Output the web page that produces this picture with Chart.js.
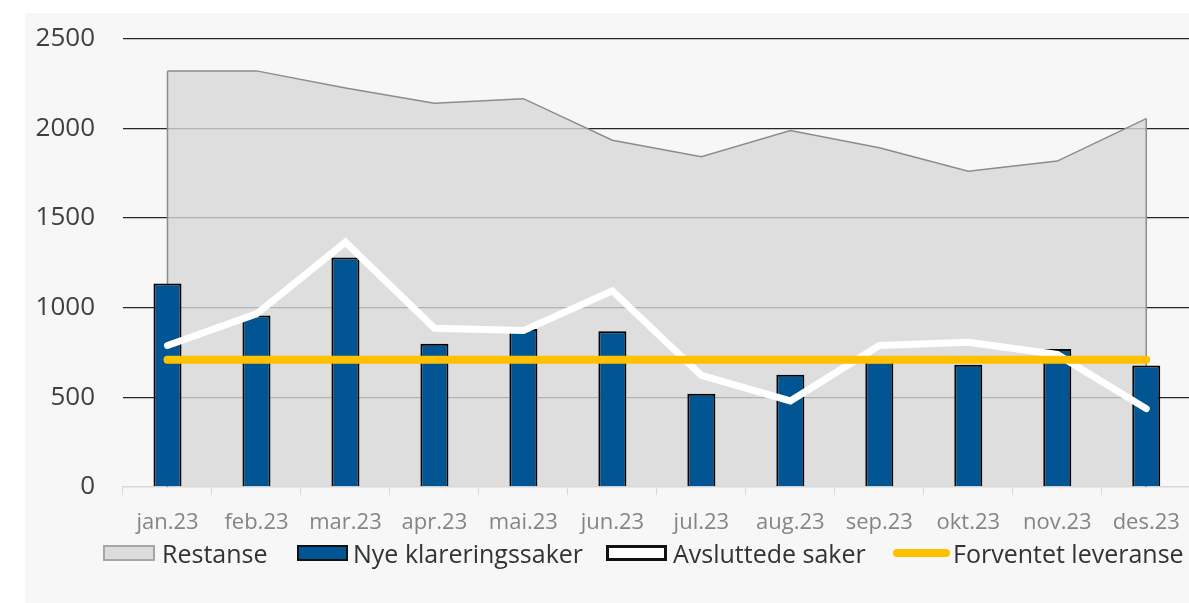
<!DOCTYPE html>
<html>
<head>
<meta charset="utf-8">
<script src="https://cdn.jsdelivr.net/npm/chart.js@4/dist/chart.umd.min.js"></script>
<style>
    html, body { margin: 0; padding: 0; background: #fff; width: 1189px; height: 603px; overflow: hidden; }
    #panel { position: absolute; left: 25px; top: 13px; width: 1164px; height: 590px; background: #f7f7f7; overflow: hidden; }
    #panel canvas { position: absolute; left: 0; top: -18px; }
    .lg { position: absolute; top: 539px; height: 28px; display: flex; align-items: center; font-family: 'Open Sans', sans-serif; font-size: 25px; color: #333; white-space: nowrap; }
    .sw { position: absolute; box-sizing: border-box; top: 545px; height: 16px; }
</style>
</head>
<body>
<div id="panel"><canvas id="chart" width="1170" height="608"></canvas></div>

<div class="sw" style="left:103px;width:52px;background:#dcdcdc;border:2px solid #a6a6a6"></div>
<div class="lg" style="left:162px">Restanse</div>
<div class="sw" style="left:297px;width:51px;background:#005592;border:2px solid #111"></div>
<div class="lg" style="left:353px">Nye klareringssaker</div>
<div class="sw" style="left:606px;width:61px;background:#fff;border:3px solid #111"></div>
<div class="lg" style="left:673px">Avsluttede saker</div>
<div class="sw" style="left:893px;width:57px;top:549px;height:8px;background:#ffc000;border-radius:4px"></div>
<div class="lg" style="left:953px">Forventet leveranse</div>

<script>
const months = ['jan.23', 'feb.23', 'mar.23', 'apr.23', 'mai.23', 'jun.23', 'jul.23', 'aug.23', 'sep.23', 'okt.23', 'nov.23', 'des.23'];
const restanse = [2320, 2320, 2225, 2140, 2165, 1933, 1841, 1987, 1891, 1761, 1817, 2054];
const nyeSaker = [1135, 956, 1280, 798, 881, 868, 520, 626, 700, 682, 770, 678];
const avsluttede = [789, 965, 1365, 885, 872, 1094, 622, 480, 789, 807, 739, 437];
const forventet = [710, 710, 710, 710, 710, 710, 710, 710, 710, 710, 710, 710];
const yTicks = [0, 500, 1000, 1500, 2000, 2500];

// vertical edges of the Restanse area (drawn right after that dataset)
const areaEdges = {
    id: 'areaEdges',
    afterDatasetDraw(chart, args) {
        if (args.index !== 0) return;
        const pts = args.meta.data;
        const base = chart.scales.y.getPixelForValue(0);
        const ctx = chart.ctx;
        ctx.save();
        ctx.strokeStyle = '#8c8c8c';
        ctx.lineWidth = 1.5;
        [pts[0], pts[pts.length - 1]].forEach(p => {
            ctx.beginPath();
            ctx.moveTo(p.x, p.y);
            ctx.lineTo(p.x, base);
            ctx.stroke();
        });
        ctx.restore();
    }
};

new Chart(document.getElementById('chart'), {
    type: 'bar',
    data: {
        labels: months,
        datasets: [
            { type: 'line', label: 'Restanse', data: restanse, order: 4, fill: 'origin',
              backgroundColor: 'rgba(215,215,215,0.8)', borderColor: '#8c8c8c', borderWidth: 1.5,
              pointRadius: 0, tension: 0 },
            { label: 'Nye klareringssaker', data: nyeSaker, order: 3,
              backgroundColor: '#005592', borderColor: '#000', borderWidth: 2,
              barPercentage: 0.63, categoryPercentage: 0.5 },
            { type: 'line', label: 'Avsluttede saker', data: avsluttede, order: 2, fill: false,
              borderColor: '#ffffff', borderWidth: 7, borderJoinStyle: 'miter', borderCapStyle: 'round',
              pointRadius: 0, tension: 0 },
            { type: 'line', label: 'Forventet leveranse', data: forventet, order: 1, fill: false,
              borderColor: '#ffc000', borderWidth: 8, borderCapStyle: 'round',
              pointRadius: 0, tension: 0 }
        ]
    },
    options: {
        responsive: false,
        animation: false,
        layout: { padding: { left: 0, right: 3, top: 6, bottom: 0 } },
        plugins: { legend: { display: false }, tooltip: { enabled: false } },
        scales: {
            x: {
                grid: { drawOnChartArea: false, color: '#d9d9d9', tickLength: 8, offset: true },
                border: { color: '#d9d9d9', width: 1.5 },
                ticks: { color: '#858585', padding: 15, font: { family: 'Open Sans', size: 22 }, maxRotation: 0 },
                afterFit: s => { s.height = 116; }
            },
            y: {
                min: 0, max: 2500,
                afterBuildTicks: s => { s.ticks = yTicks.map(v => ({ value: v })); },
                grid: { color: c => c.tick && c.tick.value === 0 ? 'rgba(0,0,0,0)' : '#262626', lineWidth: 1.3, drawTicks: false },
                border: { display: false },
                ticks: { color: '#404040', padding: 28, font: { family: 'Open Sans', size: 26 }, callback: v => String(v) },
                afterFit: s => { s.width = 98; }
            }
        }
    },
    plugins: [areaEdges]
});
</script>
</body>
</html>
